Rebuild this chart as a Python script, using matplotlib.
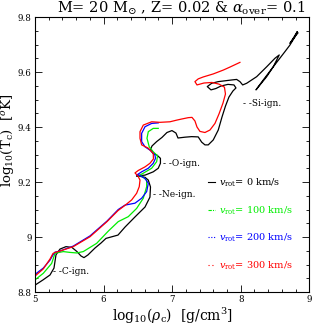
import matplotlib
matplotlib.use('Agg')
import matplotlib.pyplot as plt
import matplotlib.ticker as ticker
from matplotlib.lines import Line2D

plt.rcParams['font.family'] = ['DejaVu Serif']
plt.rcParams['mathtext.fontset'] = 'dejavuserif'

# 0 km/s
rho_0 = [5.000, 5.117, 5.219, 5.277, 5.306, 5.364, 5.452, 5.539, 5.612, 5.671, 5.714, 5.773, 5.875,
         5.962, 6.035, 6.137, 6.210, 6.312, 6.458, 6.604, 6.676, 6.684, 6.652, 6.604, 6.545, 6.480,
         6.604, 6.724, 6.797, 6.829, 6.829, 6.778, 6.720, 6.684, 6.706, 6.774, 6.851, 6.924, 6.997,
         7.055, 7.085, 7.187, 7.284, 7.380, 7.430, 7.478, 7.526, 7.599, 7.672, 7.726, 7.777, 7.828,
         7.886, 7.930, 7.901, 7.813, 7.711, 7.638, 7.566, 7.512, 7.576, 7.672, 7.770, 7.867, 7.940,
         7.988, 8.028, 8.086, 8.232, 8.378, 8.499, 8.561, 8.474, 8.378, 8.280, 8.222, 8.328, 8.474,
         8.644, 8.717, 8.790, 8.824, 8.765, 8.717, 8.776, 8.834]
tc_0 = [8.825, 8.844, 8.862, 8.887, 8.935, 8.956, 8.965, 8.962, 8.947, 8.931, 8.925, 8.935, 8.960,
        8.978, 8.995, 9.002, 9.007, 9.036, 9.073, 9.109, 9.145, 9.182, 9.207, 9.217, 9.220, 9.222,
        9.225, 9.237, 9.250, 9.268, 9.286, 9.298, 9.305, 9.318, 9.331, 9.347, 9.362, 9.380, 9.387,
        9.378, 9.360, 9.363, 9.365, 9.364, 9.345, 9.335, 9.335, 9.353, 9.389, 9.436, 9.476, 9.509,
        9.531, 9.542, 9.553, 9.555, 9.549, 9.540, 9.535, 9.547, 9.559, 9.565, 9.568, 9.571, 9.573,
        9.565, 9.553, 9.559, 9.583, 9.619, 9.650, 9.662, 9.619, 9.583, 9.553, 9.535, 9.571, 9.619,
        9.674, 9.698, 9.728, 9.747, 9.723, 9.704, 9.724, 9.742]

# 100 km/s
rho_100 = [5.000, 5.121, 5.243, 5.292, 5.413, 5.510, 5.608, 5.704, 5.899, 6.071, 6.214, 6.360, 6.482,
           6.579, 6.628, 6.628, 6.555, 6.506, 6.579, 6.701, 6.774, 6.786, 6.724, 6.666, 6.633, 6.652,
           6.724, 6.797]
tc_100 = [8.844, 8.868, 8.904, 8.941, 8.947, 8.944, 8.942, 8.947, 8.977, 9.022, 9.056, 9.074, 9.104,
          9.141, 9.183, 9.207, 9.222, 9.222, 9.232, 9.250, 9.274, 9.295, 9.310, 9.328, 9.359, 9.383,
          9.395, 9.395]

# 200 km/s
rho_200 = [5.000, 5.121, 5.219, 5.262, 5.292, 5.364, 5.558, 5.802, 6.050, 6.214, 6.312, 6.458, 6.555,
           6.628, 6.652, 6.604, 6.531, 6.482, 6.555, 6.652, 6.724, 6.757, 6.749, 6.676, 6.604, 6.555,
           6.555, 6.604, 6.701, 6.797]
tc_200 = [8.864, 8.887, 8.916, 8.935, 8.945, 8.949, 8.967, 9.004, 9.058, 9.100, 9.116, 9.123, 9.141,
          9.165, 9.195, 9.213, 9.224, 9.225, 9.237, 9.250, 9.268, 9.286, 9.298, 9.316, 9.328, 9.347,
          9.377, 9.401, 9.413, 9.415]

# 300 km/s
rho_300 = [5.000, 5.121, 5.219, 5.262, 5.292, 5.364, 5.558, 5.802, 6.050, 6.210, 6.312, 6.410, 6.482,
           6.520, 6.531, 6.501, 6.458, 6.506, 6.604, 6.676, 6.727, 6.724, 6.652, 6.555, 6.531, 6.531,
           6.579, 6.701, 6.822, 6.968, 7.066, 7.138, 7.235, 7.289, 7.332, 7.362, 7.405, 7.478, 7.551,
           7.624, 7.682, 7.741, 7.777, 7.762, 7.682, 7.580, 7.464, 7.362, 7.332, 7.380, 7.453, 7.599,
           7.745, 7.843, 7.988]
tc_300 = [8.858, 8.884, 8.920, 8.940, 8.944, 8.949, 8.965, 9.001, 9.056, 9.096, 9.115, 9.135, 9.159,
          9.183, 9.207, 9.222, 9.233, 9.242, 9.255, 9.268, 9.284, 9.304, 9.323, 9.335, 9.359, 9.383,
          9.407, 9.419, 9.417, 9.419, 9.425, 9.429, 9.434, 9.435, 9.422, 9.400, 9.384, 9.380, 9.389,
          9.413, 9.447, 9.487, 9.520, 9.545, 9.556, 9.562, 9.560, 9.553, 9.565, 9.575, 9.582, 9.593,
          9.607, 9.618, 9.635]

# 點火標記
ign_labels = ['- -C-ign.', '- -Ne-ign.', '- -O-ign.', '- -Si-ign.']
ign_rho = [5.262, 6.72, 6.866, 8.032]
ign_tc = [8.873, 9.156, 9.269, 9.487]

vrot = [0, 100, 200, 300]
colors = ['black', '#00ee00', '#0000ff', '#ff0000']
handle_ls = ['-', (0, (3, 1, 1, 1)), (0, (1, 1.5)), (0, (1, 2.5))]

fig = plt.figure(figsize=(3.27, 3.27), dpi=100)
ax = fig.add_axes([0.107, 0.107, 0.839, 0.841])

for x, y, c in zip([rho_0, rho_100, rho_200, rho_300], [tc_0, tc_100, tc_200, tc_300], colors):
    ax.plot(x, y, color=c, lw=0.9)

for lab, x, y in zip(ign_labels, ign_rho, ign_tc):
    ax.text(x, y, lab, fontsize=6.5, va='center', ha='left')

ax.set_xlim(5, 9)
ax.set_ylim(8.8, 9.8)
ax.xaxis.set_major_locator(ticker.MultipleLocator(1))
ax.xaxis.set_minor_locator(ticker.MultipleLocator(0.2))
ax.yaxis.set_major_locator(ticker.MultipleLocator(0.2))
ax.yaxis.set_minor_locator(ticker.MultipleLocator(0.05))
ax.yaxis.set_major_formatter(ticker.FuncFormatter(lambda v, p: '%g' % round(v, 2)))
ax.tick_params(which='both', direction='in', top=True, right=True, labelsize=6.2, width=0.6)
ax.tick_params(which='major', length=5, pad=2.5)
ax.tick_params(which='minor', length=2.5)
for s in ax.spines.values():
    s.set_linewidth(0.8)

ax.set_xlabel(r'log$_{10}$($\rho_{\rm c}$)  [g/cm$^3$]', fontsize=10, labelpad=1)
ax.set_ylabel(r'log$_{10}$(T$_{\rm c}$)  [$^o$K]', fontsize=9.5, va='center')
ax.yaxis.set_label_coords(-0.1, 0.55)
fig.text(0.554, 0.976, r'M= 20 M$_{\odot}$ , Z= 0.02 & $\alpha_{\rm over}$= 0.1',
         fontsize=10.5, ha='center', va='center')

# 圖例
handles = [Line2D([], [], color=c, ls=ls, lw=0.8) for c, ls in zip(colors, handle_ls)]
labels = [r'$v_{\rm rot}$= %d km/s' % v for v in vrot]
ax.legend(handles, labels, loc='upper left', bbox_to_anchor=(0.6, 0.451), frameon=False,
          fontsize=7, handlelength=0.7, handletextpad=0.4, labelspacing=1.55, labelcolor='linecolor')

fig.savefig('out.png', dpi=100)
